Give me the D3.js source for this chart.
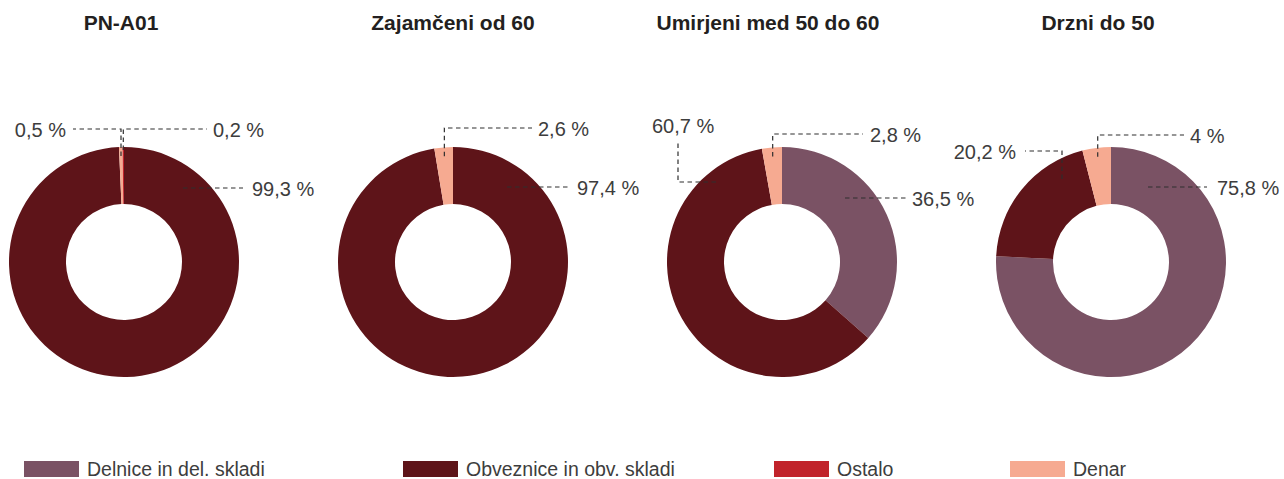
<!DOCTYPE html>
<html>
<head>
<meta charset="utf-8">
<script src="https://cdn.jsdelivr.net/npm/d3@7"></script>
<style>
  html, body { margin: 0; padding: 0; background: #ffffff; }
  svg { display: block; }
</style>
</head>
<body>
<svg id="chart" width="1284" height="479"></svg>
<script>
// ---------- data ----------
const charts = ["PN-A01", "Zajamčeni od 60", "Umirjeni med 50 do 60", "Drzni do 50"];
const seriesNames = ["Delnice in del. skladi", "Obveznice in obv. skladi", "Ostalo", "Denar"];
const delnice   = [0, 0, 36.5, 75.8];
const obveznice = [99.3, 97.4, 60.7, 20.2];
const ostalo    = [0.2, 0, 0, 0];
const denar     = [0.5, 2.6, 2.8, 4];

// ---------- styles / layout ----------
const colors = {
  "Delnice in del. skladi": "#7a5264",
  "Obveznice in obv. skladi": "#5e1419",
  "Ostalo": "#c1232b",
  "Denar": "#f6aa91"
};
const drawOrder = ["Delnice in del. skladi", "Obveznice in obv. skladi", "Denar", "Ostalo"];
const outerR = 115, innerR = 58, centerY = 262;
const titleDx = [-3, 0, -14, -13];
const titleY = 30;
const legendX = [24, 403, 774, 1010];
const legendY = 461;

// label leader layout, relative to each donut centre.
// "anchorR" => first point computed on slice mid-angle at that radius
const labelLayout = [
  [
    { s: "Obveznice in obv. skladi", pts: [[59, -74], [119, -74]], tx: 128, ty: -73, a: "start" },
    { s: "Denar", anchorR: 106, pts: [[null, -133], [-51, -133]], tx: -58, ty: -132, a: "end" },
    { s: "Ostalo", anchorR: 112, pts: [[null, -133], [83, -133]], tx: 89, ty: -132, a: "start" }
  ],
  [
    { s: "Obveznice in obv. skladi", pts: [[54, -75], [115, -75]], tx: 124, ty: -74, a: "start" },
    { s: "Denar", anchorR: 106, pts: [[null, -134], [79, -134]], tx: 85, ty: -133, a: "start" }
  ],
  [
    { s: "Delnice in del. skladi", pts: [[63, -64], [125, -64]], tx: 130, ty: -63, a: "start" },
    { s: "Obveznice in obv. skladi", pts: [[-66, -80], [-104, -80], [-104, -122]], tx: -130, ty: -136, a: "start" },
    { s: "Denar", anchorR: 106, pts: [[null, -128], [81, -128]], tx: 88, ty: -127, a: "start" }
  ],
  [
    { s: "Delnice in del. skladi", pts: [[37, -75], [96, -75]], tx: 106, ty: -74, a: "start" },
    { s: "Obveznice in obv. skladi", pts: [[-49, -83], [-49, -111], [-86, -111]], tx: -95, ty: -110, a: "end" },
    { s: "Denar", anchorR: 106, pts: [[null, -127], [73, -127]], tx: 79, ty: -126, a: "start" }
  ]
];

const valuesBySeries = {
  "Delnice in del. skladi": delnice,
  "Obveznice in obv. skladi": obveznice,
  "Ostalo": ostalo,
  "Denar": denar
};

const fmt = v => String(v).replace(".", ",") + " %";

const svg = d3.select("#chart");
const x = d3.scalePoint().domain(charts).range([124, 1111]);

const pie = d3.pie().sort(null).value(d => d.value);
const arc = d3.arc().innerRadius(innerR).outerRadius(outerR);

charts.forEach((name, i) => {
  const cx = x(name);
  const g = svg.append("g").attr("transform", `translate(${cx},${centerY})`);
  const rows = drawOrder.map(s => ({ series: s, value: valuesBySeries[s][i] }));
  const arcs = pie(rows);

  g.selectAll("path.slice")
    .data(arcs.filter(d => d.data.value > 0))
    .join("path")
    .attr("class", "slice")
    .attr("d", arc)
    .attr("fill", d => colors[d.data.series]);

  // title
  svg.append("text")
    .attr("x", cx + titleDx[i])
    .attr("y", titleY)
    .attr("text-anchor", "middle")
    .attr("font-family", "Liberation Sans, Arial, sans-serif")
    .attr("font-weight", "bold")
    .attr("font-size", 21)
    .attr("fill", "#231f20")
    .text(name);

  // labels
  labelLayout[i].forEach(L => {
    const a = arcs.find(d => d.data.series === L.s);
    if (!a || a.data.value <= 0) return;
    let pts = L.pts.map(p => p.slice());
    if (L.anchorR) {
      const mid = (a.startAngle + a.endAngle) / 2;
      const ax = L.anchorR * Math.sin(mid);
      const ay = -L.anchorR * Math.cos(mid);
      pts = [[ax, ay]].concat(pts.map(p => [p[0] === null ? ax : p[0], p[1]]));
    }
    g.append("path")
      .attr("d", d3.line()(pts))
      .attr("fill", "none")
      .attr("stroke", "#2e2e2e")
      .attr("stroke-width", 1.2)
      .attr("stroke-dasharray", "4.5,3.5");
    g.append("text")
      .attr("x", L.tx)
      .attr("y", L.ty)
      .attr("text-anchor", L.a)
      .attr("dominant-baseline", "central")
      .attr("font-family", "Liberation Sans, Arial, sans-serif")
      .attr("font-size", 20)
      .attr("fill", "#3d3d3d")
      .text(fmt(a.data.value));
  });
});

// legend
const leg = svg.append("g");
seriesNames.forEach((s, i) => {
  leg.append("rect")
    .attr("x", legendX[i]).attr("y", legendY)
    .attr("width", 55).attr("height", 16)
    .attr("fill", colors[s]);
  leg.append("text")
    .attr("x", legendX[i] + 63)
    .attr("y", legendY + 8)
    .attr("dominant-baseline", "central")
    .attr("font-family", "Liberation Sans, Arial, sans-serif")
    .attr("font-size", 19.5)
    .attr("fill", "#3d3d3d")
    .text(s);
});
</script>
</body>
</html>
